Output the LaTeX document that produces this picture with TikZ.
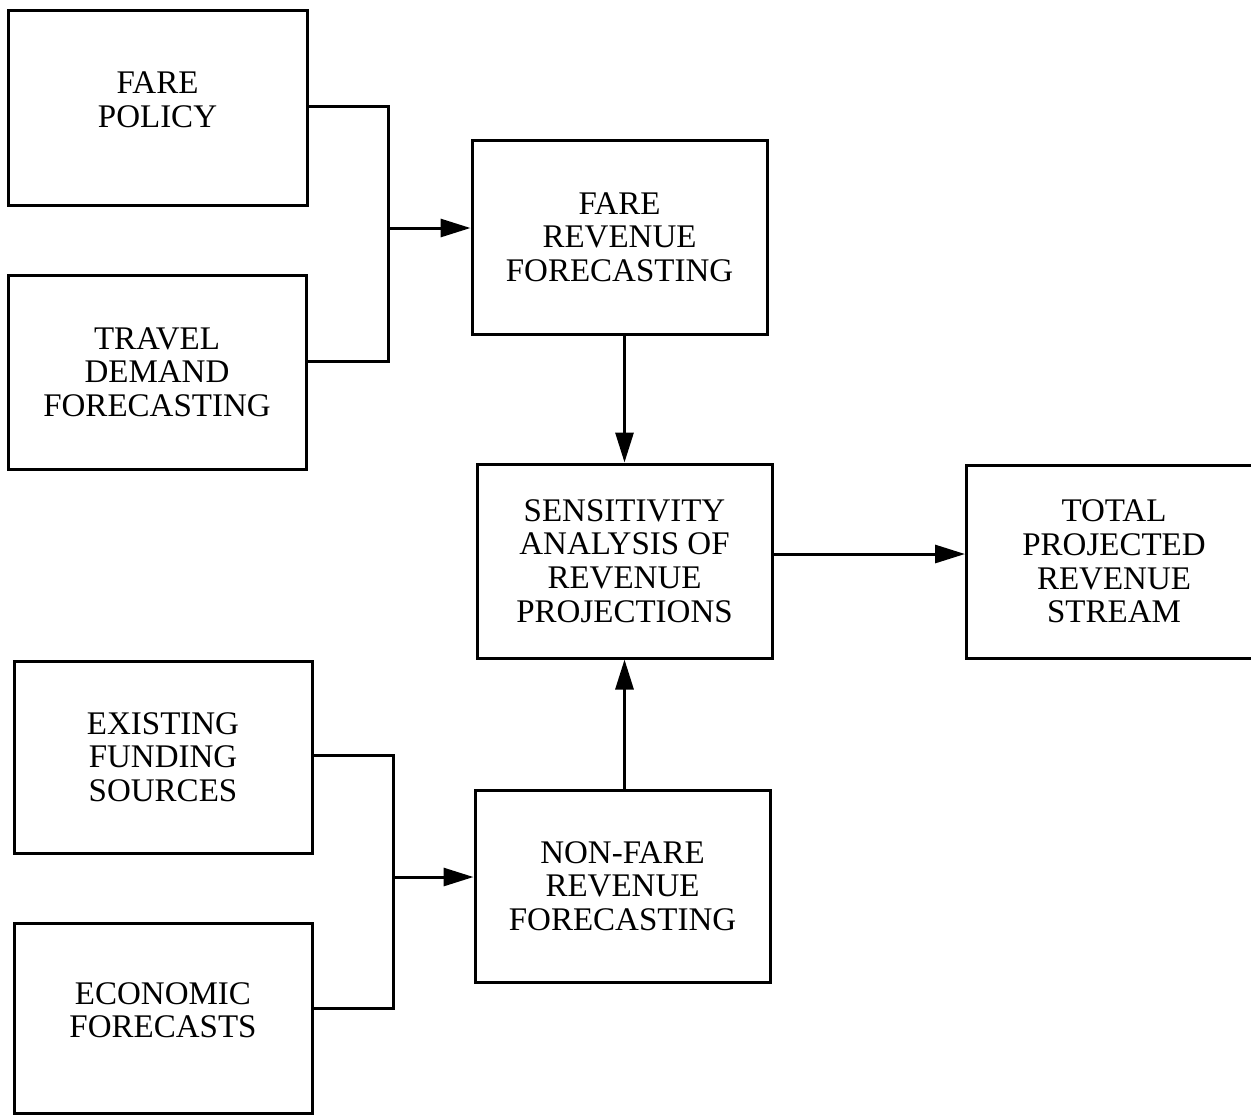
\documentclass[tikz,border=0pt]{standalone}
\usepackage{fontspec}
\setmainfont{Liberation Serif}
\usetikzlibrary{arrows.meta}

\tikzset{
  block/.style={draw, line width=1.5pt, align=center, inner sep=0pt,
    font=\fontsize{16.5pt}{16.8pt}\selectfont,
    minimum width=#1},
  block/.default=147.5pt,
  wire/.style={line width=1.5pt},
  flow/.style={line width=1.5pt, -{Triangle[length=15pt,width=9pt]}},
}

\begin{document}
\begin{tikzpicture}[x=0.5pt, y=-0.5pt]
  \path[use as bounding box, clip] (0,0) rectangle (1251,1115);
  \fill[white] (0,0) rectangle (1251,1115);

  % input boxes, upper pair
  \node[block=149.5pt, minimum height=97.5pt] (fp) at (157.5,107.5)
    {FARE\\POLICY\rule[-8pt]{0pt}{8pt}};
  \node[block=149pt, minimum height=97pt] (td) at (157,372)
    {TRAVEL\\DEMAND\\FORECASTING};

  % input boxes, lower pair
  \node[block=149pt, minimum height=96pt] (ef) at (163,757)
    {EXISTING\\FUNDING\\SOURCES};
  \node[block=149pt, minimum height=95pt] (ec) at (163,1018)
    {ECONOMIC\\FORECASTS\rule[-8pt]{0pt}{8pt}};

  % forecasting stages
  \node[block, minimum height=97pt] (fr) at (619.5,237)
    {FARE\\REVENUE\\FORECASTING};
  \node[block, minimum height=96pt] (nf) at (622.5,886)
    {NON-FARE\\REVENUE\\FORECASTING};

  % analysis and result
  \node[block, minimum height=97pt] (sa) at (624.5,561)
    {SENSITIVITY\\ANALYSIS OF\\REVENUE\\PROJECTIONS};
  \node[block, minimum height=96.5pt] (tp) at (1114,561.5)
    {TOTAL\\PROJECTED\\REVENUE\\STREAM};

  % junction points of the two brackets
  \coordinate (j1) at (388,228);
  \coordinate (j2) at (393,877);

  % upper bracket into fare revenue forecasting
  \draw[wire] ([yshift=0.75pt]fp.east) -| (j1) |- ([yshift=5.5pt]td.east);
  \draw[flow] (j1) -- (j1 -| fr.west);

  % lower bracket into non-fare revenue forecasting
  \draw[wire] ([yshift=1pt]ef.east) -| (j2) |- ([yshift=5pt]ec.east);
  \draw[flow] (j2) -- (j2 -| nf.west);

  % flows into and out of the sensitivity analysis
  \draw[flow] (fr.south -| sa.north) -- (sa.north);
  \draw[flow] (nf.north -| sa.south) -- (sa.south);
  \draw[flow] ([yshift=3.5pt]sa.east) -- ([yshift=3.5pt]sa.east -| tp.west);
\end{tikzpicture}
\end{document}
